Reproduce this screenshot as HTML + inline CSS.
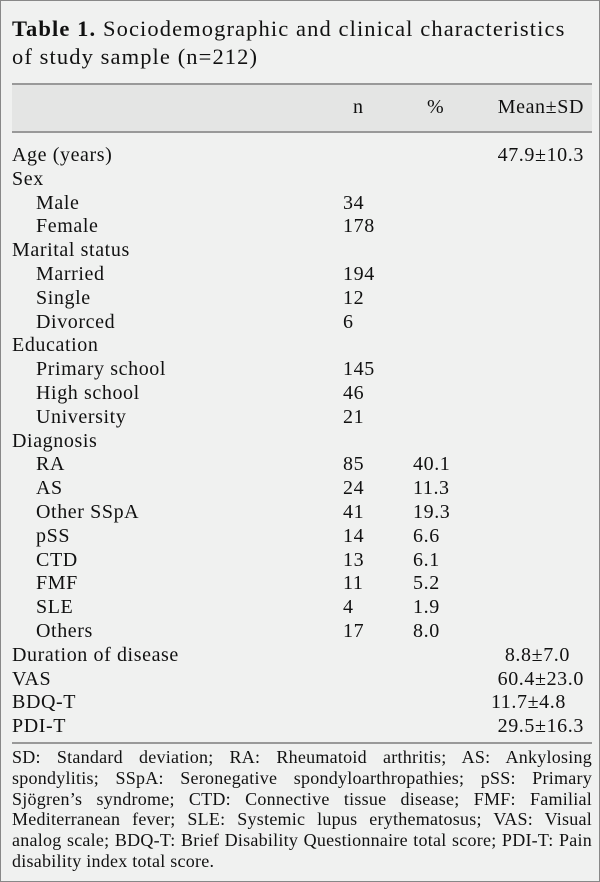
<!DOCTYPE html>
<html><head><style>
body{margin:0;width:600px;height:882px;background:#f0f1f0;font-family:"Liberation Serif",serif;color:#111;overflow:hidden}
.frame{position:absolute;left:0;top:0;width:598px;height:880px;border:1px solid #888;}
.t{position:absolute;left:12px;width:590px;font-size:22.5px;line-height:28px;top:15px;letter-spacing:1.1px;white-space:nowrap}
.hdr{position:absolute;left:12px;width:580px;top:83px;height:46px;background:#e4e5e4;border-top:2px solid #999;border-bottom:2px solid #999}
.h{position:absolute;top:96px;font-size:20px;letter-spacing:0.6px}
.r{position:absolute;left:0;width:600px;height:24px;font-size:20px;line-height:24px;letter-spacing:0.6px}
.r span{position:absolute;white-space:nowrap}
.bot{position:absolute;left:12px;width:580px;top:742px;border-top:2px solid #999}
.fn{position:absolute;left:12px;width:580px;top:747px;font-size:18px;line-height:20.8px;text-align:justify;letter-spacing:0.25px}
</style></head><body>
<div class="frame"></div>
<div class="t"><b>Table 1.</b> Sociodemographic and clinical characteristics<br>of study sample (n=212)</div>
<div class="hdr"></div>
<div class="h" style="left:353px">n</div>
<div class="h" style="left:427px">%</div>
<div class="h" style="right:16px">Mean±SD</div>
<div class="bot"></div>
<div class="fn">SD: Standard deviation; RA: Rheumatoid arthritis; AS: Ankylosing spondylitis; SSpA: Seronegative spondyloarthropathies; pSS: Primary Sjögren’s syndrome; CTD: Connective tissue disease; FMF: Familial Mediterranean fever; SLE: Systemic lupus erythematosus; VAS: Visual analog scale; BDQ-T: Brief Disability Questionnaire total score; PDI-T: Pain disability index total score.</div>
<div class="r" style="top:143px"><span style="left:12px">Age (years)</span><span style="right:16px">47.9±10.3</span></div>
<div class="r" style="top:167px"><span style="left:12px">Sex</span></div>
<div class="r" style="top:191px"><span style="left:36px">Male</span><span style="left:343px">34</span></div>
<div class="r" style="top:214px"><span style="left:36px">Female</span><span style="left:343px">178</span></div>
<div class="r" style="top:238px"><span style="left:12px">Marital status</span></div>
<div class="r" style="top:262px"><span style="left:36px">Married</span><span style="left:343px">194</span></div>
<div class="r" style="top:286px"><span style="left:36px">Single</span><span style="left:343px">12</span></div>
<div class="r" style="top:310px"><span style="left:36px">Divorced</span><span style="left:343px">6</span></div>
<div class="r" style="top:333px"><span style="left:12px">Education</span></div>
<div class="r" style="top:357px"><span style="left:36px">Primary school</span><span style="left:343px">145</span></div>
<div class="r" style="top:381px"><span style="left:36px">High school</span><span style="left:343px">46</span></div>
<div class="r" style="top:405px"><span style="left:36px">University</span><span style="left:343px">21</span></div>
<div class="r" style="top:429px"><span style="left:12px">Diagnosis</span></div>
<div class="r" style="top:452px"><span style="left:36px">RA</span><span style="left:343px">85</span><span style="left:413px">40.1</span></div>
<div class="r" style="top:476px"><span style="left:36px">AS</span><span style="left:343px">24</span><span style="left:413px">11.3</span></div>
<div class="r" style="top:500px"><span style="left:36px">Other SSpA</span><span style="left:343px">41</span><span style="left:413px">19.3</span></div>
<div class="r" style="top:524px"><span style="left:36px">pSS</span><span style="left:343px">14</span><span style="left:413px">6.6</span></div>
<div class="r" style="top:548px"><span style="left:36px">CTD</span><span style="left:343px">13</span><span style="left:413px">6.1</span></div>
<div class="r" style="top:571px"><span style="left:36px">FMF</span><span style="left:343px">11</span><span style="left:413px">5.2</span></div>
<div class="r" style="top:595px"><span style="left:36px">SLE</span><span style="left:343px">4</span><span style="left:413px">1.9</span></div>
<div class="r" style="top:619px"><span style="left:36px">Others</span><span style="left:343px">17</span><span style="left:413px">8.0</span></div>
<div class="r" style="top:643px"><span style="left:12px">Duration of disease</span><span style="right:30px">8.8±7.0</span></div>
<div class="r" style="top:667px"><span style="left:12px">VAS</span><span style="right:16px">60.4±23.0</span></div>
<div class="r" style="top:690px"><span style="left:12px">BDQ-T</span><span style="right:34px">11.7±4.8</span></div>
<div class="r" style="top:714px"><span style="left:12px">PDI-T</span><span style="right:16px">29.5±16.3</span></div>
</body></html>
